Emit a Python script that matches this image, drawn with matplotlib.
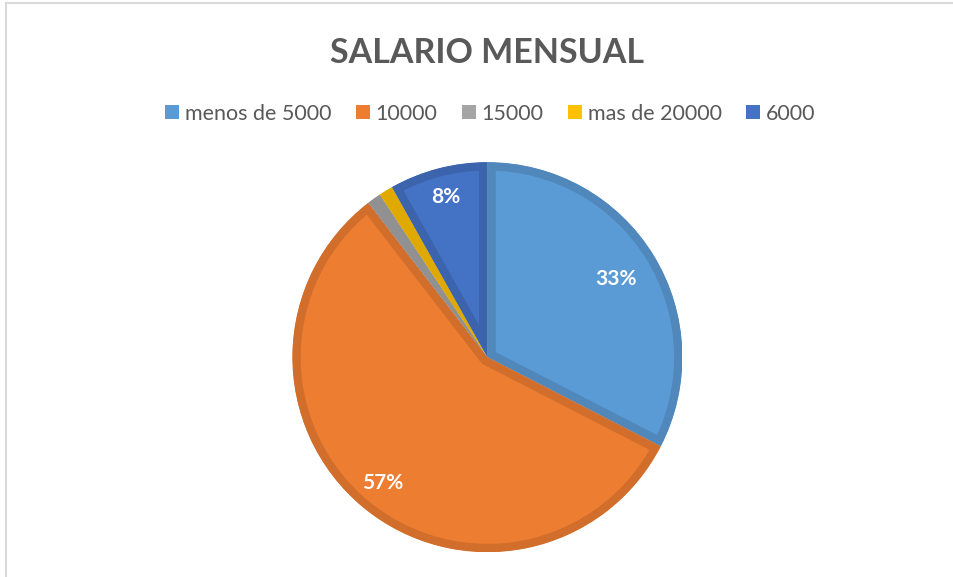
import numpy as np
import matplotlib
matplotlib.use("Agg")
import matplotlib.pyplot as plt
from matplotlib.lines import Line2D
from matplotlib.patches import Patch
from matplotlib.colors import to_rgb

# data
categorias = ['menos de 5000', '10000', '15000', 'mas de 20000', '6000']
valores = [28, 49, 1, 1, 7]
colores = ['#5B9BD5', '#ED7D31', '#A5A5A5', '#FFC000', '#4472C4']
mostrar = [True, True, False, False, True]
dist_etiqueta = [0.77, 0.84, 0.8, 0.8, 0.85]

plt.rcParams['font.family'] = ['Lato', 'DejaVu Sans']

fig = plt.figure(figsize=(9.54, 5.77), dpi=100)
ax = fig.add_axes([0.3065, 0.043, 0.4088, 0.676])

def oscuro(c, f=0.88):
    r, g, b = to_rgb(c)
    return (r * f, g * f, b * f)

wedges, _ = ax.pie(valores, colors=colores, startangle=90, counterclock=False,
                   radius=1.0)
total = sum(valores)
for w, c in zip(wedges, colores):
    w.set_edgecolor(oscuro(c))
    w.set_linewidth(12)
    w.set_joinstyle('round')
    w.set_clip_on(True)
    w.set_clip_path(w)

for w, v, m, d in zip(wedges, valores, mostrar, dist_etiqueta):
    if not m:
        continue
    ang = np.deg2rad((w.theta1 + w.theta2) / 2)
    ax.text(d * np.cos(ang), d * np.sin(ang), f'{round(v / total * 100)}%',
            ha='center', va='center', color='white', fontsize=15,
            fontweight='bold')
ax.set_xlim(-1.0, 1.0)
ax.set_ylim(-1.0, 1.0)
ax.set_aspect('equal')

fig.text(0.5105, 0.909, 'SALARIO MENSUAL', ha='center', va='center',
         fontsize=24.5, fontweight='bold', color='#595959')

handles = [Patch(facecolor=c, edgecolor='none') for c in colores]
fig.legend(handles, categorias, loc='center', bbox_to_anchor=(0.514, 0.803),
           ncol=5, frameon=False, fontsize=15.5, labelcolor='#595959',
           handlelength=0.65, handleheight=0.65, handletextpad=0.25,
           columnspacing=1.15)

# chart border (left and top)
fig.add_artist(Line2D([0.0068, 0.0068], [0, 0.994], transform=fig.transFigure,
                      color='#D9D9D9', lw=1.5))
fig.add_artist(Line2D([0.0068, 1.0], [0.994, 0.994], transform=fig.transFigure,
                      color='#D9D9D9', lw=1.5))

fig.savefig('out.png', dpi=100)
